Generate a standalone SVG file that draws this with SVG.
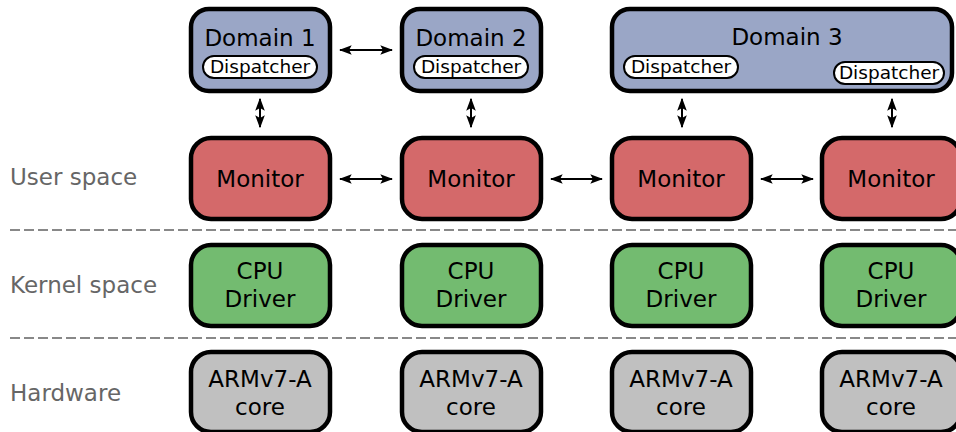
<svg xmlns="http://www.w3.org/2000/svg" width="956" height="432" viewBox="0 0 956 432">
<style>
.box{stroke:#000;stroke-width:4.5}
.dom{fill:#9aa6c6}
.mon{fill:#d4696a}
.cpu{fill:#73bb70}
.hw{fill:#c0c0c0}
.pill{fill:#fff;stroke:#000;stroke-width:2}
.t{font-family:"DejaVu Sans",sans-serif;font-size:23px;fill:#000;text-anchor:middle}
.d{font-family:"DejaVu Sans",sans-serif;font-size:18.5px;fill:#000;text-anchor:middle}
.lbl{font-family:"DejaVu Sans",sans-serif;font-size:23px;fill:#666}
.sep{stroke:#888;stroke-width:2;stroke-dasharray:10 4}
.c{stroke:#000;stroke-width:2;fill:none;marker-start:url(#a);marker-end:url(#a)}
</style>
<defs>
<marker id="a" viewBox="0 0 10 10" refX="9" refY="5" markerWidth="6.5" markerHeight="6.5" orient="auto-start-reverse" markerUnits="strokeWidth">
<path d="M0,1.3 L10,5 L0,8.7 L2,5 Z" fill="#000"/>
</marker>
</defs>
<g id="labels">
<text class="lbl" x="10" y="185">User space</text>
<text class="lbl" x="10" y="293">Kernel space</text>
<text class="lbl" x="10" y="401">Hardware</text>
</g>
<g id="separators">
<line class="sep" x1="10" y1="230" x2="956" y2="230"/>
<line class="sep" x1="10" y1="338" x2="956" y2="338"/>
</g>
<g id="domain1"><rect class="box dom" x="191" y="9" width="139" height="82" rx="18"/><text class="t" x="260" y="46">Domain 1</text><rect class="pill" x="203" y="56" width="114" height="22" rx="11"/><text class="d" x="260" y="73">Dispatcher</text></g>
<g id="domain2"><rect class="box dom" x="402" y="9" width="139" height="82" rx="18"/><text class="t" x="471" y="46">Domain 2</text><rect class="pill" x="414" y="56" width="114" height="22" rx="11"/><text class="d" x="471" y="73">Dispatcher</text></g>
<g id="domain3"><rect class="box dom" x="612" y="9" width="340" height="82" rx="18"/><text class="t" x="787" y="45">Domain 3</text><rect class="pill" x="624" y="56" width="114" height="22" rx="11"/><text class="d" x="681" y="73">Dispatcher</text><rect class="pill" x="834" y="62" width="110" height="22" rx="11"/><text class="d" x="889" y="79">Dispatcher</text></g>
<g id="monitor1"><rect class="box mon" x="191" y="138" width="139" height="81" rx="20"/><text class="t" x="260" y="187">Monitor</text></g>
<g id="monitor2"><rect class="box mon" x="402" y="138" width="139" height="81" rx="20"/><text class="t" x="471" y="187">Monitor</text></g>
<g id="monitor3"><rect class="box mon" x="612" y="138" width="139" height="81" rx="20"/><text class="t" x="681" y="187">Monitor</text></g>
<g id="monitor4"><rect class="box mon" x="822" y="138" width="139" height="81" rx="20"/><text class="t" x="891" y="187">Monitor</text></g>
<g id="cpu1"><rect class="box cpu" x="191" y="245" width="139" height="81" rx="20"/><text class="t" x="260" y="279">CPU</text><text class="t" x="260" y="307">Driver</text></g>
<g id="cpu2"><rect class="box cpu" x="402" y="245" width="139" height="81" rx="20"/><text class="t" x="471" y="279">CPU</text><text class="t" x="471" y="307">Driver</text></g>
<g id="cpu3"><rect class="box cpu" x="612" y="245" width="139" height="81" rx="20"/><text class="t" x="681" y="279">CPU</text><text class="t" x="681" y="307">Driver</text></g>
<g id="cpu4"><rect class="box cpu" x="822" y="245" width="139" height="81" rx="20"/><text class="t" x="891" y="279">CPU</text><text class="t" x="891" y="307">Driver</text></g>
<g id="core1"><rect class="box hw" x="191" y="352" width="139" height="80" rx="20"/><text class="t" x="260" y="387">ARMv7-A</text><text class="t" x="260" y="415">core</text></g>
<g id="core2"><rect class="box hw" x="402" y="352" width="139" height="80" rx="20"/><text class="t" x="471" y="387">ARMv7-A</text><text class="t" x="471" y="415">core</text></g>
<g id="core3"><rect class="box hw" x="612" y="352" width="139" height="80" rx="20"/><text class="t" x="681" y="387">ARMv7-A</text><text class="t" x="681" y="415">core</text></g>
<g id="core4"><rect class="box hw" x="822" y="352" width="139" height="80" rx="20"/><text class="t" x="891" y="387">ARMv7-A</text><text class="t" x="891" y="415">core</text></g>
<g id="connectors">
<line class="c" x1="340" y1="50" x2="392" y2="50"/>
<line class="c" x1="340" y1="179" x2="392" y2="179"/>
<line class="c" x1="551" y1="179" x2="602" y2="179"/>
<line class="c" x1="761" y1="179" x2="813" y2="179"/>
<line class="c" x1="260" y1="99" x2="260" y2="127"/>
<line class="c" x1="471" y1="99" x2="471" y2="127"/>
<line class="c" x1="682" y1="99" x2="682" y2="127"/>
<line class="c" x1="892" y1="99" x2="892" y2="127"/>
</g>
</svg>
